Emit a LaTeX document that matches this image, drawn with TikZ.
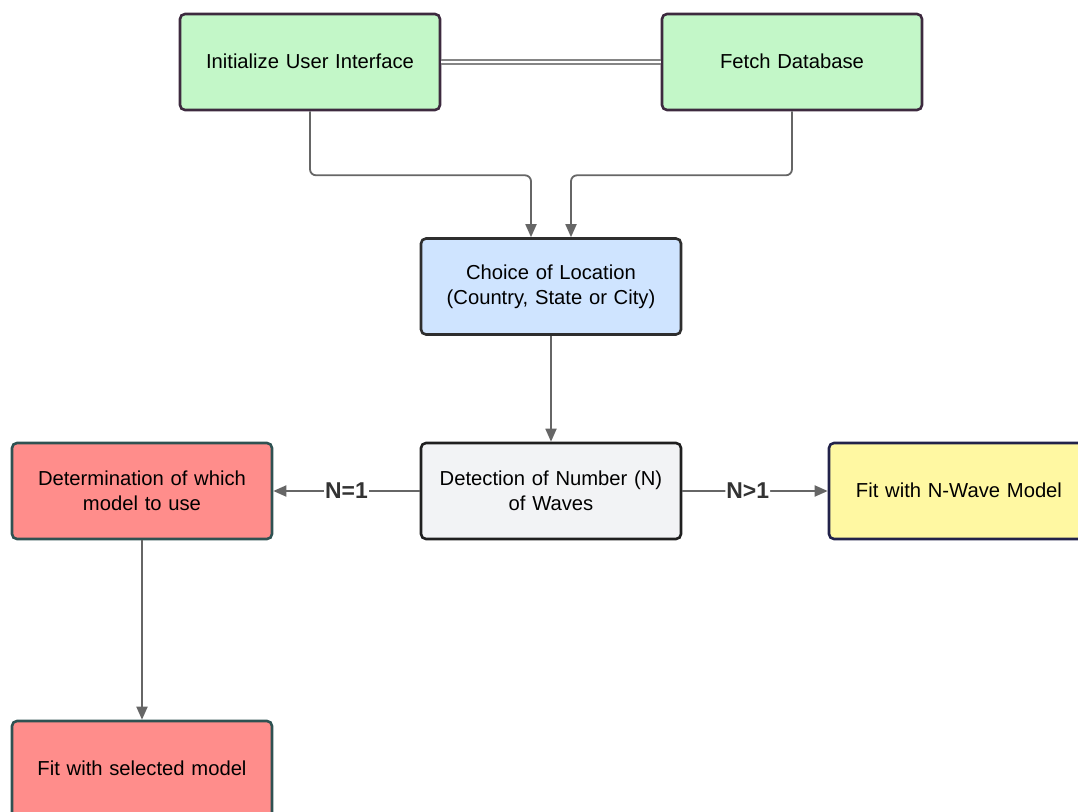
\documentclass[tikz,border=0pt]{standalone}
\usepackage{fontspec}
\setmainfont{Liberation Sans}
\usetikzlibrary{arrows.meta}
\definecolor{gfill}{HTML}{C3F7C8}
\definecolor{gdraw}{HTML}{3D2A3F}
\definecolor{bfill}{HTML}{CFE4FF}
\definecolor{bdraw}{HTML}{2E2E2E}
\definecolor{wfill}{HTML}{F2F3F5}
\definecolor{wdraw}{HTML}{1F1F1F}
\definecolor{rfill}{HTML}{FF8D8B}
\definecolor{rdraw}{HTML}{2F5252}
\definecolor{yfill}{HTML}{FFF8A2}
\definecolor{ydraw}{HTML}{22224A}
\definecolor{conncol}{HTML}{666666}
\definecolor{labcol}{HTML}{333333}
\tikzset{
  box/.style={rectangle, rounded corners=5bp, line width=2.6bp, minimum width=260bp, minimum height=96bp, text width=245bp, align=center, font=\fontsize{20.3}{25}\selectfont, inner sep=0pt},
  greenbox/.style={box, fill=gfill, draw=gdraw},
  bluebox/.style={box, fill=bfill, draw=bdraw},
  greybox/.style={box, fill=wfill, draw=wdraw},
  redbox/.style={box, fill=rfill, draw=rdraw},
  yellowbox/.style={box, fill=yfill, draw=ydraw},
  conn/.style={draw=conncol, line width=1.8bp, rounded corners=6bp, -{Triangle[length=13bp,width=11bp]}},
  lab/.style={fill=white, text=labcol, font=\bfseries\fontsize{23}{27}\selectfont, inner sep=1bp},
}
\begin{document}
\begin{tikzpicture}[x=1bp,y=-1bp]
\useasboundingbox (0,0) rectangle (1078,812);
\node[greenbox] (init) at (310,62) {\raisebox{1.5bp}{Initialize User Interface}};
\node[greenbox] (fetch) at (792,62) {\raisebox{1.5bp}{Fetch Database}};
\node[bluebox] (choice) at (551,286.5) {Choice of Location\\(Country, State or City)};
\node[greybox] (detect) at (551,491) {Detection of Number (N)\\of Waves};
\node[redbox] (determ) at (142,491) {Determination of which\\model to use};
\node[yellowbox] (nwave) at (959,491) {\raisebox{1.5bp}{Fit with N-Wave Model}};
\node[redbox] (selected) at (142,769) {\raisebox{1.5bp}{Fit with selected model}};

\draw[draw=conncol!80, line width=1.3bp, double=white, double distance=2.6bp] (init.east) -- (fetch.west);
\draw[conn] (init.south) -- ++(0,64) -| ([xshift=-20bp]choice.north);
\draw[conn] (fetch.south) -- ++(0,64) -| ([xshift=20bp]choice.north);
\draw[conn] (choice.south) -- (detect.north);
\draw[conn] (detect.west) -- node[lab, pos=0.5] {N=1} (determ.east);
\draw[conn] (detect.east) -- node[lab, pos=0.45] {N>1} (nwave.west);
\draw[conn] (determ.south) -- (selected.north);
\end{tikzpicture}
\end{document}
